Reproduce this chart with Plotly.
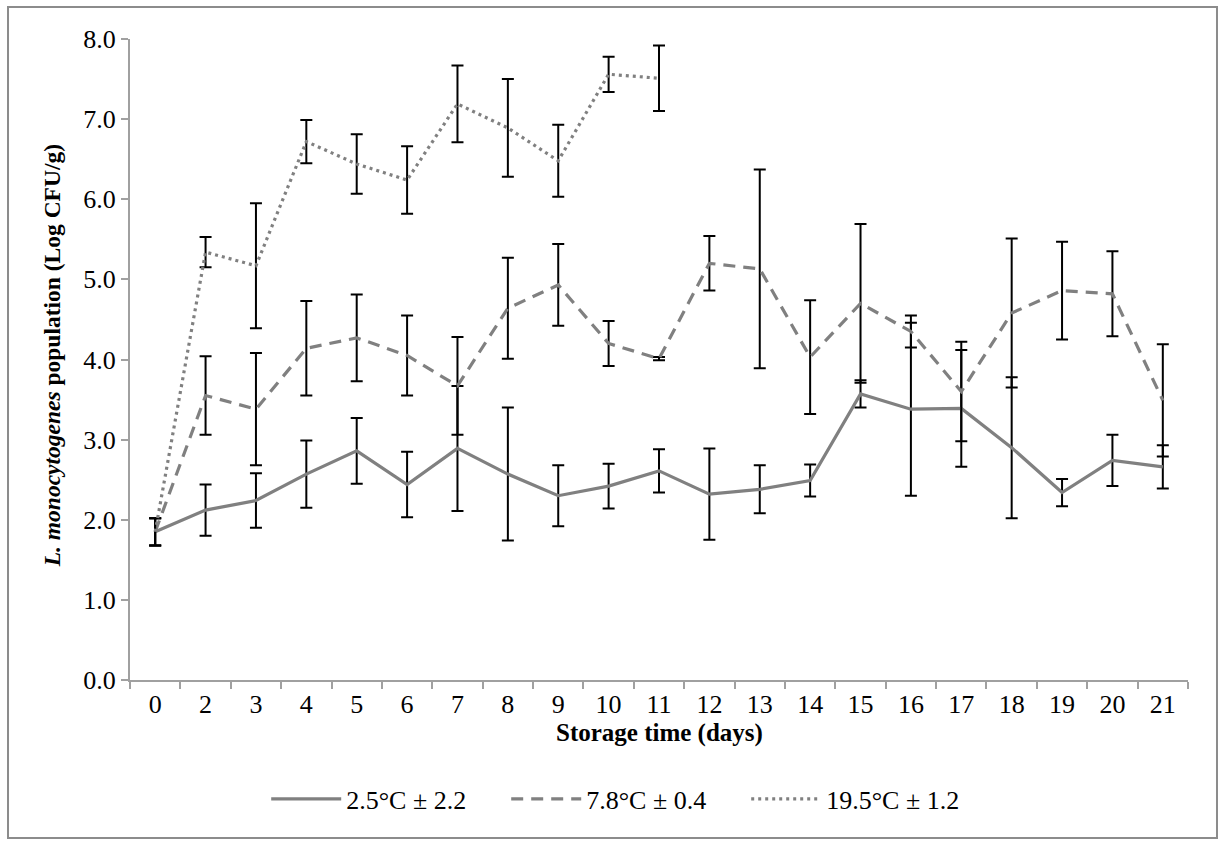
import plotly.graph_objects as go

days = ["0", "2", "3", "4", "5", "6", "7", "8", "9", "10", "11",
        "12", "13", "14", "15", "16", "17", "18", "19", "20", "21"]

low_name = "2.5°C ± 2.2"
low_vals = [1.85, 2.12, 2.24, 2.57, 2.86, 2.44, 2.89, 2.57, 2.30, 2.42, 2.61,
            2.32, 2.38, 2.49, 3.57, 3.38, 3.39, 2.90, 2.34, 2.74, 2.66]
low_err = [0.17, 0.32, 0.34, 0.42, 0.41, 0.41, 0.78, 0.83, 0.38, 0.28, 0.27,
           0.57, 0.30, 0.20, 0.17, 1.08, 0.73, 0.88, 0.17, 0.32, 0.27]

mid_name = "7.8°C ± 0.4"
mid_vals = [1.85, 3.55, 3.38, 4.14, 4.27, 4.05, 3.67, 4.64, 4.93, 4.20, 4.01,
            5.20, 5.13, 4.03, 4.70, 4.35, 3.60, 4.58, 4.86, 4.82, 3.49]
mid_err = [0.17, 0.49, 0.70, 0.59, 0.54, 0.50, 0.61, 0.63, 0.51, 0.28, 0.02,
           0.34, 1.24, 0.71, 0.99, 0.20, 0.62, 0.93, 0.61, 0.53, 0.70]

high_name = "19.5°C ± 1.2"
high_vals = [1.85, 5.34, 5.17, 6.72, 6.44, 6.24, 7.19, 6.89, 6.48, 7.56, 7.51]
high_err = [0.17, 0.19, 0.78, 0.27, 0.37, 0.42, 0.48, 0.61, 0.45, 0.22, 0.41]

y_ticks = [0, 1, 2, 3, 4, 5, 6, 7, 8]

LINE = "#808080"
AXIS = "#a0a0a0"
FONT = "Liberation Serif"

fig = go.Figure()

series = [
    (low_name, low_vals, low_err, "solid"),
    (mid_name, mid_vals, mid_err, "12px,8px"),
    (high_name, high_vals, high_err, "3px,4px"),
]
for name, vals, err, dash in series:
    fig.add_trace(go.Scatter(
        x=days[:len(vals)], y=vals, name=name, mode="lines",
        line=dict(color=LINE, width=3.2, dash=dash),
        error_y=dict(type="data", array=err, visible=True,
                     color="black", thickness=2, width=6),
    ))

fig.update_layout(
    width=1221, height=841,
    margin=dict(l=130, r=33, t=39, b=161),
    paper_bgcolor="white", plot_bgcolor="white",
    font=dict(family=FONT, size=26, color="black"),
    showlegend=True,
    legend=dict(orientation="h", x=0.469, xanchor="center",
                y=-0.1856, yanchor="middle",
                font=dict(family=FONT, size=26, color="black"),
                itemwidth=70, entrywidth=155, entrywidthmode="pixels",
                tracegroupgap=0),
    xaxis=dict(type="category", categoryorder="array", categoryarray=days,
               range=[-0.5, len(days) - 0.5],
               showline=True, linecolor=AXIS, linewidth=2,
               ticks="outside", ticklen=7, tickcolor=AXIS, tickwidth=2,
               tickson="boundaries", showgrid=False, zeroline=False,
               tickfont=dict(family=FONT, size=26, color="black")),
    yaxis=dict(range=[0, 8], tickvals=y_ticks,
               ticktext=[f"{v:.1f}" for v in y_ticks],
               showline=True, linecolor=AXIS, linewidth=2,
               ticks="outside", ticklen=7, tickcolor=AXIS, tickwidth=2,
               showgrid=False, zeroline=False,
               tickfont=dict(family=FONT, size=26, color="black")),
    annotations=[
        dict(text="<b>Storage time (days)</b>", xref="paper", yref="paper",
             x=0.5, y=-0.0827, xanchor="center", yanchor="middle",
             showarrow=False, font=dict(family=FONT, size=25, color="black")),
        dict(text="<b><i>L. monocytogenes</i> population (Log CFU/g)</b>",
             xref="paper", yref="paper", x=-0.0737, y=0.505,
             xanchor="center", yanchor="middle", textangle=-90,
             showarrow=False, font=dict(family=FONT, size=23.5, color="black")),
    ],
    shapes=[
        dict(type="rect", xref="paper", yref="paper",
             x0=-0.1153, x1=1.0274, y0=-0.2465, y1=1.0499,
             line=dict(color="#8c8c8c", width=2), fillcolor="rgba(0,0,0,0)",
             layer="below"),
    ],
)

fig.write_html("out.html")
